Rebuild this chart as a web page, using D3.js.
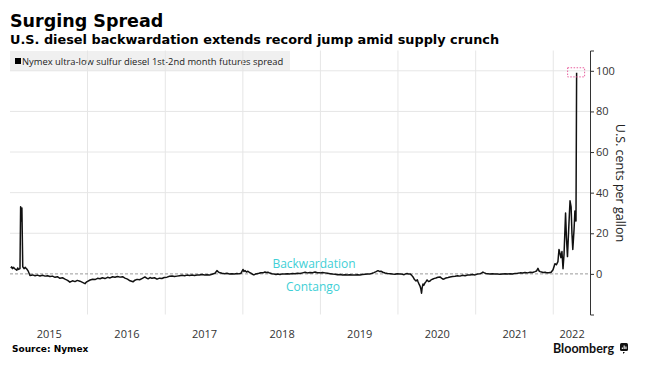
<!DOCTYPE html>
<html>
<head>
<meta charset="utf-8">
<script src="https://cdn.jsdelivr.net/npm/d3@7"></script>
<style>
  body { margin: 0; background: #fff; }
  svg { display: block; }
</style>
</head>
<body>
<div id="chart"></div>
<script>
// Spread readings (U.S. cents per gallon)
const dates = [
  "2015-01-05","2015-01-09","2015-01-13","2015-01-18","2015-01-25","2015-02-02","2015-02-06","2015-02-10","2015-02-17","2015-02-20","2015-02-23","2015-02-26","2015-03-02","2015-03-08","2015-03-14","2015-03-21","2015-03-27","2015-04-05","2015-04-17","2015-04-29","2015-05-10","2015-05-22","2015-06-03","2015-06-15","2015-06-27","2015-07-08","2015-07-20","2015-08-01","2015-08-12","2015-08-24","2015-09-05","2015-09-17","2015-09-29","2015-10-10","2015-10-22","2015-11-03","2015-11-14","2015-11-26","2015-12-08","2015-12-20","2015-12-28",
  "2016-01-13","2016-01-25","2016-02-05","2016-02-17","2016-02-29","2016-03-11","2016-03-23","2016-04-04","2016-04-16","2016-04-28","2016-05-09","2016-05-21","2016-06-02","2016-06-14","2016-06-25","2016-07-07","2016-07-19","2016-08-02","2016-08-11","2016-08-21","2016-09-02","2016-09-13","2016-09-27","2016-10-05","2016-10-12","2016-10-21","2016-10-30","2016-11-11","2016-11-23","2016-12-05","2016-12-16","2016-12-27",
  "2017-01-09","2017-01-21","2017-02-02","2017-02-13","2017-02-25","2017-03-09","2017-03-21","2017-04-02","2017-04-13","2017-04-25","2017-05-07","2017-05-18","2017-05-30","2017-06-11","2017-06-23","2017-07-05","2017-07-16","2017-07-28","2017-08-09","2017-08-23","2017-09-01","2017-09-06","2017-09-11","2017-09-25","2017-10-06","2017-10-18","2017-10-30","2017-11-11","2017-11-22","2017-12-04","2017-12-14","2017-12-23",
  "2018-01-02","2018-01-06","2018-01-11","2018-01-18","2018-01-25","2018-02-01","2018-02-08","2018-02-15","2018-02-22","2018-03-01","2018-03-09","2018-03-18","2018-03-27","2018-04-06","2018-04-15","2018-04-22","2018-04-29","2018-05-08","2018-05-18","2018-05-28","2018-06-06","2018-06-15","2018-06-25","2018-07-06","2018-07-18","2018-07-30","2018-08-11","2018-08-22","2018-09-03","2018-09-15","2018-09-27","2018-10-09","2018-10-21","2018-11-01","2018-11-13","2018-11-25","2018-12-07","2018-12-18","2018-12-30",
  "2019-01-11","2019-01-23","2019-02-04","2019-02-15","2019-02-27","2019-03-11","2019-03-22","2019-04-03","2019-04-15","2019-04-27","2019-05-08","2019-05-20","2019-06-01","2019-06-13","2019-06-25","2019-07-06","2019-07-18","2019-07-30","2019-08-11","2019-08-23","2019-09-02","2019-09-10","2019-09-20","2019-09-29","2019-10-06","2019-10-13","2019-10-22","2019-11-01","2019-11-13","2019-11-25","2019-12-06","2019-12-18","2019-12-29",
  "2020-01-11","2020-01-22","2020-01-30","2020-02-06","2020-02-13","2020-02-20","2020-02-27","2020-03-05","2020-03-12","2020-03-19","2020-03-26","2020-04-01","2020-04-05","2020-04-10","2020-04-14","2020-04-18","2020-04-21","2020-04-24","2020-04-28","2020-05-02","2020-05-07","2020-05-12","2020-05-17","2020-05-24","2020-05-31","2020-06-07","2020-06-14","2020-06-21","2020-06-28","2020-07-07","2020-07-17","2020-07-24","2020-07-31","2020-08-07","2020-08-14","2020-08-24","2020-09-02","2020-09-14","2020-09-26","2020-10-08","2020-10-19","2020-10-31","2020-11-12","2020-11-24","2020-12-05","2020-12-17","2020-12-29",
  "2021-01-09","2021-01-21","2021-01-28","2021-02-04","2021-02-11","2021-02-18","2021-02-27","2021-03-09","2021-03-21","2021-04-02","2021-04-13","2021-04-25","2021-05-07","2021-05-19","2021-05-31","2021-06-12","2021-06-23","2021-07-05","2021-07-17","2021-07-29","2021-08-10","2021-08-21","2021-09-02","2021-09-14","2021-09-26","2021-10-07","2021-10-14","2021-10-21","2021-10-26","2021-10-31","2021-11-07","2021-11-14","2021-11-24","2021-12-03","2021-12-12","2021-12-22","2021-12-31",
  "2022-01-09","2022-01-16","2022-01-23","2022-01-28","2022-02-02","2022-02-06","2022-02-11","2022-02-16","2022-02-21","2022-02-28","2022-03-04","2022-03-09","2022-03-16","2022-03-21","2022-03-26","2022-03-30","2022-04-03","2022-04-09","2022-04-13","2022-04-18","2022-04-21"
];
const spread = [
  2.8, 3.5, 2.6, 3.2, 2.4, 1.8, 2.9, 2.2, 2.6, 33, 26, 32.5, 3.5, 2.6, 3.2, 2.4, 1.5, -0.8, -0.5, -0.9, -0.6, -1, -0.7, -1.1, -0.9, -1.3, -1.1, -1.7, -1.4, -2.2, -1.9, -2.6, -3.2, -4.1, -3.4, -3.8, -3.2, -3.6, -4.2, -4.8, -3.9,
  -3, -2.6, -2.8, -2.2, -2.4, -1.9, -2.3, -1.7, -2, -1.4, -1.7, -1.3, -1.6, -1.4, -2.1, -2.6, -3.4, -3.9, -3.1, -2.7, -2.9, -2.3, -1.5, -2.1, -2.4, -1.8, -2.2, -1.9, -2.6, -2.1, -2.3, -1.8,
  -1.6, -1.2, -1, -1.3, -1.1, -0.9, -0.7, -0.9, -0.6, -0.8, -0.6, -0.8, -0.5, -0.6, -0.3, -0.5, -0.4, -0.6, -0.2, 0.3, 1.6, 1.1, 0.7, 0.3, 0.1, 0.3, -0.1, 0.1, -0.1, 0.2, 0, 0.3,
  2.2, 1.2, 1.6, 0.9, 1.3, 0.7, 0.4, -0.2, -0.5, -0.1, 0.1, 0.3, 0.6, 0.5, 0.9, 0.7, 0.8, 0.4, 0.1, -0.1, -0.3, -0.1, -0.3, 0, -0.1, 0.1, 0, 0.2, 0.1, 0.3, 0.2, 0.5, 0.8, 0.5, 0.7, 0.6, 0.9, 0.6, 0.5,
  0.7, 0.5, 0.3, 0.1, -0.1, -0.2, -0.4, -0.3, -0.5, -0.4, -0.6, -0.4, -0.5, -0.6, -0.4, -0.5, -0.3, -0.2, -0.1, 0, 0.3, 0.6, 1.1, 1.6, 1.2, 1.3, 0.8, 0.4, 0.2, 0.1, -0.1, -0.2, 0.1,
  0, -0.2, -0.4, 0, 0.2, -0.1, 0, -0.6, -1.5, -2.8, -3.5, -2.9, -4, -5.2, -6, -7.5, -9.5, -6.8, -5, -5.6, -4.5, -3.8, -3, -3.8, -3.5, -2.8, -2.5, -2.2, -2, -1.7, -1.5, -2.1, -2.6, -2.4, -2, -1.8, -1.5, -1.3, -1.2, -0.9, -1.1, -0.7, -0.9, -0.6, -0.5, -0.3, -0.5,
  -0.1, 0.1, 0.4, 0.9, 0.5, 0.2, 0.1, -0.1, 0.1, 0, -0.1, -0.2, 0, 0.1, -0.1, 0.1, 0, 0.2, 0.3, 0.5, 0.4, 0.7, 0.5, 0.8, 0.7, 1.1, 1.4, 2.7, 1.5, 1.1, 0.9, 0.7, 0.8, 0.5, 0.6, 0.8, 2,
  5, 4.5, 6, 12, 10, 8, 11, 2.5, 10, 30, 18, 8.5, 25, 36, 33, 20, 12, 22, 31, 26, 99
];
const years = [2015, 2016, 2017, 2018, 2019, 2020, 2021, 2022];
const yTicks = [0, 20, 40, 60, 80, 100];

const parse = d3.timeParse("%Y-%m-%d");
const data = dates.map((d, i) => ({date: parse(d), value: spread[i]}));

const width = 648, height = 371;
const x0 = 10, x1 = 590, yTop = 50.5, yBottom = 314.5;

const svg = d3.select("#chart").append("svg")
    .attr("width", width)
    .attr("height", height)
    .style("font-family", "'Open Sans', sans-serif");

const x = d3.scaleTime()
    .domain([new Date(2015, 0, 1), new Date(2022, 5, 23)])
    .range([x0, x1]);

const y = d3.scaleLinear()
    .domain([-20, 110])
    .range([yBottom, yTop]);

// Title and subtitle
svg.append("text")
    .attr("x", 10).attr("y", 27)
    .style("font-family", "'DejaVu Sans', sans-serif")
    .style("font-weight", "bold")
    .style("font-size", "17.5px")
    .attr("fill", "#000")
    .text("Surging Spread");

svg.append("text")
    .attr("x", 10).attr("y", 44)
    .style("font-family", "'DejaVu Sans', sans-serif")
    .style("font-weight", "bold")
    .style("font-size", "12.85px")
    .attr("fill", "#000")
    .text("U.S. diesel backwardation extends record jump amid supply crunch");

// Legend box
svg.append("rect")
    .attr("x", 10).attr("y", 51)
    .attr("width", 280).attr("height", 20)
    .attr("fill", "#f0f0f0");

svg.append("rect")
    .attr("x", 15).attr("y", 58)
    .attr("width", 6).attr("height", 6)
    .attr("fill", "#000");

svg.append("text")
    .attr("x", 22).attr("y", 64.5)
    .style("font-size", "9.4px")
    .attr("fill", "#222")
    .text("Nymex ultra-low sulfur diesel 1st-2nd month futures spread");

// Gridlines
svg.append("g")
    .selectAll("line")
    .data(d3.timeYear.range(x.domain()[0], x.domain()[1]).slice(1))
    .join("line")
    .attr("x1", d => x(d)).attr("x2", d => x(d))
    .attr("y1", yTop).attr("y2", yBottom)
    .attr("stroke", "#e6e6e6")
    .attr("stroke-width", 1);

svg.append("g")
    .selectAll("line")
    .data(yTicks.filter(d => d !== 0))
    .join("line")
    .attr("x1", x0).attr("x2", x1)
    .attr("y1", d => y(d)).attr("y2", d => y(d))
    .attr("stroke", "#e6e6e6")
    .attr("stroke-width", 1);

// Zero line
svg.append("line")
    .attr("x1", x0).attr("x2", x1)
    .attr("y1", y(0)).attr("y2", y(0))
    .attr("stroke", "#9a9a9a")
    .attr("stroke-dasharray", "3,2")
    .attr("stroke-width", 1);

// Backwardation / Contango labels
svg.append("text")
    .attr("x", 314).attr("y", 268)
    .attr("text-anchor", "middle")
    .style("font-size", "12px")
    .attr("fill", "#3fcfd6")
    .text("Backwardation");

svg.append("text")
    .attr("x", 313).attr("y", 291)
    .attr("text-anchor", "middle")
    .style("font-size", "12px")
    .attr("fill", "#3fcfd6")
    .text("Contango");

// Spread line
const line = d3.line()
    .x(d => x(d.date))
    .y(d => y(d.value));

svg.append("path")
    .datum(data)
    .attr("fill", "none")
    .attr("stroke", "#111")
    .attr("stroke-width", 1.5)
    .attr("stroke-linejoin", "round")
    .attr("d", line);

// Highlight box around the latest reading
const last = data[data.length - 1];
svg.append("rect")
    .attr("x", x(last.date) - 9)
    .attr("y", y(last.value + 2.5))
    .attr("width", 17)
    .attr("height", y(last.value - 2) - y(last.value + 2.5))
    .attr("fill", "none")
    .attr("stroke", "#e8609f")
    .attr("stroke-width", 1)
    .attr("stroke-dasharray", "1.5,1.5");

// Right axis
const yAxis = svg.append("g")
    .attr("transform", `translate(${x1},0)`)
    .call(d3.axisRight(y).tickValues(yTicks).tickSize(4).tickSizeOuter(4).tickPadding(2));
yAxis.select(".domain").attr("stroke", "#333");
yAxis.selectAll(".tick line").attr("stroke", "#333");
yAxis.selectAll("text")
    .style("font-family", "'Open Sans', sans-serif")
    .style("font-size", "11px")
    .attr("fill", "#333");

svg.append("text")
    .attr("transform", "translate(616,183) rotate(90)")
    .attr("text-anchor", "middle")
    .style("font-size", "12.5px")
    .attr("fill", "#222")
    .text("U.S. cents per gallon");

// Year labels centred on the visible part of each year
const yearMid = years.map(yr => {
  const a = d3.max([new Date(yr, 0, 1), x.domain()[0]]);
  const b = d3.min([new Date(yr + 1, 0, 1), x.domain()[1]]);
  return new Date((+a + +b) / 2);
});
const xAxis = svg.append("g")
    .attr("transform", `translate(0,${yBottom + 13})`)
    .call(d3.axisBottom(x).tickValues(yearMid).tickSize(0).tickFormat(d3.timeFormat("%Y")));
xAxis.select(".domain").remove();
xAxis.selectAll("text")
    .style("font-family", "'Open Sans', sans-serif")
    .style("font-size", "11px")
    .attr("fill", "#333");

// Footer
svg.append("text")
    .attr("x", 12).attr("y", 352)
    .style("font-family", "'DejaVu Sans', sans-serif")
    .style("font-weight", "bold")
    .style("font-size", "9px")
    .attr("fill", "#000")
    .text("Source: Nymex");

svg.append("text")
    .attr("x", 553).attr("y", 352.5)
    .style("font-family", "Lato, sans-serif")
    .style("font-weight", "bold")
    .style("font-size", "12.5px")
    .attr("fill", "#111")
    .text("Bloomberg");

const logo = svg.append("g").attr("transform", "translate(620,343)");
logo.append("rect").attr("width", 8).attr("height", 8).attr("rx", 1.5).attr("fill", "#111");
logo.append("path").attr("d", "M3,9 L3,11 L5,9 Z").attr("fill", "#111");
[[1.8, 4.5], [3.6, 2.5], [5.4, 3.5]].forEach(([bx, by]) => {
  logo.append("rect").attr("x", bx).attr("y", by).attr("width", 1.1).attr("height", 6 - by).attr("fill", "#fff");
});
</script>
</body>
</html>
